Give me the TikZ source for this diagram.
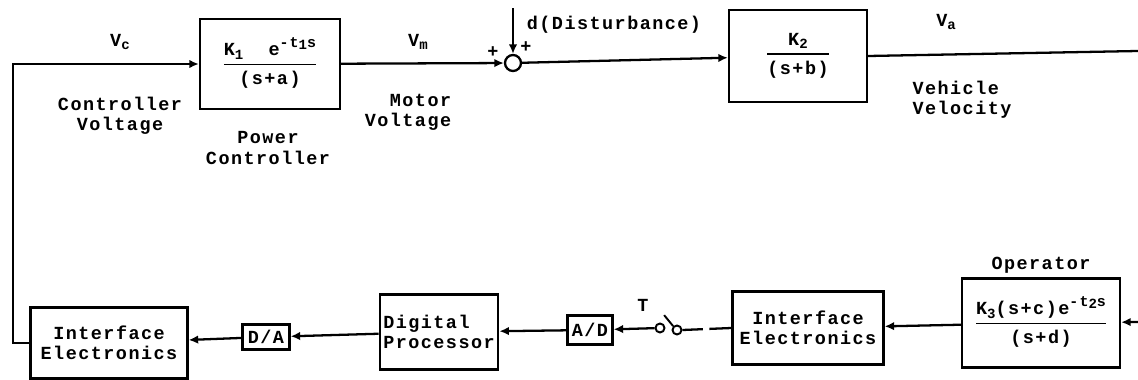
\documentclass[tikz,border=0pt]{standalone}
\usepackage{fontspec}
\setmainfont{Liberation Mono}[LetterSpace=8]
\usetikzlibrary{arrows.meta, positioning, calc}

% fraction inside a block: numerator over a rule over denominator
\newcommand{\blkfrac}[2]{%
  \setlength{\arrayrulewidth}{1pt}%
  \begin{tabular}{@{}c@{}}#1\\[1pt]\hline\rule{0pt}{11pt}#2\end{tabular}}
\newcommand{\sbx}[1]{\raisebox{-0.35ex}{\fontsize{8}{8}\selectfont #1}}
\newcommand{\spx}[1]{\raisebox{0.9ex}{\fontsize{8.5}{8.5}\selectfont #1}}

\begin{document}
\begin{tikzpicture}[
    x=0.2mm, y=-0.2mm,
    blk/.style={
      rectangle, draw, line width=1.3pt,
      inner sep=2pt, align=center,
      font=\fontsize{10.5}{11.5}\selectfont\bfseries
    },
    sumj/.style={circle, draw, line width=1.3pt, minimum size=3.2mm, inner sep=0pt},
    swc/.style={circle, draw, line width=1.1pt, minimum size=1.8mm, inner sep=0pt},
    arr/.style={-{Latex[length=1.9mm, width=1.7mm]}, line width=1.3pt},
    wire/.style={line width=1.3pt},
    gapline/.style={line width=1.3pt, dash pattern=on 4.4mm off 1.3mm},
    lbl/.style={font=\fontsize{10.5}{11.5}\selectfont\bfseries, align=center, inner sep=1pt},
  ]
  \useasboundingbox (0,0) rectangle (1138,380);

  %% -- forward path (top row) -------------------------------------------
  \node[blk, minimum width=28mm, minimum height=18mm] (pc) at (270,64)
    {\blkfrac{K\sbx{1}\ \ e\spx{-t\sbx{1}s}}{(s+a)}};
  \node[sumj] (sum) at (513,63) {};
  \node[blk, minimum width=27.6mm, minimum height=18.4mm] (k2) at (798,56)
    {\blkfrac{K\sbx{2}}{(s+b)}};
  \coordinate (dtop) at (513,8);
  \coordinate (vout) at (1138,51);

  %% -- feedback path (bottom row) ----------------------------------------
  \node[blk, minimum width=31.4mm, minimum height=14.2mm] (ie1) at (109,343) {Interface\\Electronics};
  \node[blk, minimum width=9.4mm, minimum height=5mm, inner sep=1pt] (da) at (266,337) {D/A};
  \node[blk, minimum width=23.6mm, minimum height=15mm, align=left] (dp) at (439,332) {Digital\\Processor};
  \node[blk, minimum width=9mm, minimum height=5.8mm, inner sep=1pt] (ad) at (590,330) {A/D};
  \node[swc] (sw1) at (660,328) {};
  \node[swc] (sw2) at (677,330) {};
  \node[blk, minimum width=30.2mm, minimum height=14.6mm] (ie2) at (808,328) {Interface\\Electronics};
  \node[blk, minimum width=31.6mm, minimum height=17.8mm] (op) at (1041,323)
    {\blkfrac{K\sbx{3}(s+c)e\spx{-t\sbx{2}s}}{(s+d)}};
  \coordinate (vin) at (1138,322);

  %% -- labels --------------------------------------------------------------
  \node[lbl] (vc)  at (120,42)  {V\sbx{c}};
  \node[lbl] (cv)  at (120,116) {Controller\\Voltage};
  \node[lbl] (pwr) at (268,148) {Power\\Controller};
  \node[lbl] (vm)  at (418,42)  {V\sbx{m}};
  \node[lbl, align=right] (mv) at (408,112) {Motor\\Voltage};
  \node[lbl] (dist) at (614,25) {d(Disturbance)};
  \node[lbl] (pl1) at (493,52) {+};
  \node[lbl] (pl2) at (526,47) {+};
  \node[lbl] (va)  at (946,22)  {V\sbx{a}};
  \node[lbl, align=left] (vv) at (962,100) {Vehicle\\Velocity};
  \node[lbl, above=1pt of op] (opr) {Operator};
  \node[lbl] (tt)  at (643,305) {T};

  %% -- connectors ----------------------------------------------------------
  \draw[arr]  (ie1.west) -- ++(-16,0) |- (pc.west);
  \draw[arr]  (pc) -- (sum);
  \draw[arr]  (dtop) -- (sum);
  \draw[arr]  (sum) -- (k2);
  \draw[wire] (k2.east) -- (vout);

  \draw[arr]  (vin) -- (op);
  \draw[arr]  (op) -- (ie2);
  \draw[gapline] (ie2.west) -- (sw2.east);
  \draw[line width=1.1pt] (sw2.north west) -- ++(-9,-11);
  \draw[arr]  (sw1) -- (ad);
  \draw[arr]  (ad) -- (dp);
  \draw[arr]  (dp) -- (da);
  \draw[arr]  (da) -- (ie1);

\end{tikzpicture}
\end{document}
